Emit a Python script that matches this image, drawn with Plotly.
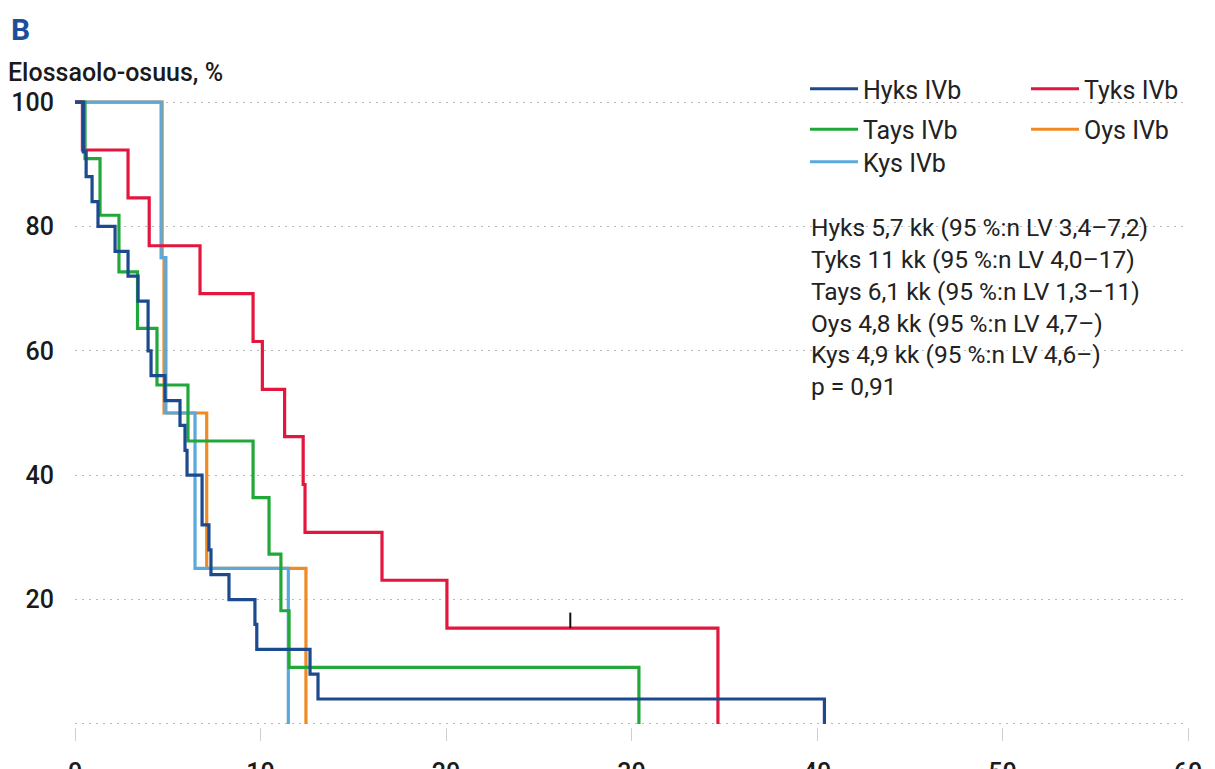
import plotly.graph_objects as go

# ---- data ----
hyks_t = [0, 0.45, 0.6, 0.92, 1.24, 2.16, 2.86, 3.4, 3.94, 4.1, 4.85, 5.66, 5.93, 6.04,
          6.85, 7.22, 7.33, 8.3, 9.7, 9.8, 12.67, 13.1, 40.4]
hyks_s = [100, 92, 88, 84, 80, 76, 72, 68, 60, 56, 52, 48, 44, 40,
          32, 28, 24, 20, 16, 12, 8, 4, 0]

tyks_t = [0, 0.4, 2.86, 4.0, 6.74, 9.6, 10.1, 11.3, 12.3, 12.4, 16.55, 20.05, 34.66]
tyks_s = [100, 92.3, 84.6, 76.9, 69.2, 61.5, 53.8, 46.2, 38.5, 30.8, 23.1, 15.4, 0]
tyks_cens_t = [26.7]
tyks_cens_s = [15.4]

tays_t = [0, 0.54, 1.35, 2.37, 3.37, 4.42, 6.09, 9.6, 10.46, 11.1, 11.54, 30.4]
tays_s = [100, 90.9, 81.8, 72.7, 63.6, 54.5, 45.5, 36.4, 27.3, 18.2, 9.1, 0]

oys_t = [0, 4.7, 4.8, 7.1, 12.45]
oys_s = [100, 75, 50, 25, 0]

kys_t = [0, 4.64, 4.9, 6.47, 11.5]
kys_s = [100, 75, 50, 25, 0]

x_ticks = [0, 10, 20, 30, 40, 50, 60]
y_ticks = [0, 20, 40, 60, 80, 100]
y_ticktext = ["", "20", "40", "60", "80", "100"]

stats_lines = [
    "Hyks 5,7 kk (95 %:n LV 3,4–7,2)",
    "Tyks 11 kk (95 %:n LV 4,0–17)",
    "Tays 6,1 kk (95 %:n LV 1,3–11)",
    "Oys 4,8 kk (95 %:n LV 4,7–)",
    "Kys 4,9 kk (95 %:n LV 4,6–)",
    "p = 0,91",
]

# ---- styling ----
W, H = 1215, 769
ML, MR, MT, MB = 75, 27, 99, 42
FONT = "Roboto, 'Open Sans', sans-serif"
C_HYKS = "#1c4a8e"
C_TYKS = "#e3173e"
C_TAYS = "#22a83a"
C_OYS = "#f08a24"
C_KYS = "#5aa9dc"


def px_x(px):
    return (px - ML) / (W - ML - MR)


def px_y(py):
    return (H - MB - py) / (H - MT - MB)


fig = go.Figure()


def add_curve(t, s, name, color, legend, group, rank):
    fig.add_trace(go.Scatter(
        x=t, y=s, mode="lines", name=name, line=dict(color=color, width=3.2, shape="hv"),
        legend=legend, legendgroup=group, legendrank=rank, hoverinfo="x+y+name"))


add_curve(oys_t, oys_s, "Oys IVb", C_OYS, "legend2", "oys", 2)
add_curve(kys_t, kys_s, "Kys IVb", C_KYS, "legend3", "kys", 1)
add_curve(tays_t, tays_s, "Tays IVb", C_TAYS, "legend", "tays", 2)
add_curve(tyks_t, tyks_s, "Tyks IVb", C_TYKS, "legend2", "tyks", 1)
add_curve(hyks_t, hyks_s, "Hyks IVb", C_HYKS, "legend", "hyks", 1)

fig.add_trace(go.Scatter(
    x=tyks_cens_t, y=tyks_cens_s, mode="markers", showlegend=False,
    marker=dict(size=1, color="rgba(0,0,0,0)"),
    error_y=dict(type="data", symmetric=False, array=[2.5], arrayminus=[0],
                 color="#111111", thickness=2, width=0),
    hoverinfo="skip"))

legend_common = dict(
    xref="container", yref="container", xanchor="left", yanchor="top",
    font=dict(family=FONT, size=25, color="#222222"), bgcolor="rgba(0,0,0,0)",
    traceorder="grouped", tracegroupgap=5, itemwidth=48, borderwidth=0,
)

fig.update_layout(
    width=W, height=H,
    margin=dict(l=ML, r=MR, t=MT, b=MB, autoexpand=False),
    paper_bgcolor="white", plot_bgcolor="white",
    font=dict(family=FONT, color="#1a1a1a"),
    legend=dict(x=805 / W, y=1 - 66 / H, **legend_common),
    legend2=dict(x=1026 / W, y=1 - 66 / H, **legend_common),
    legend3=dict(x=805 / W, y=1 - 139 / H, **legend_common),
    xaxis=dict(
        range=[0, 60], tickvals=x_ticks, showgrid=False, zeroline=False, showline=False,
        ticks="outside", ticklen=13, tickcolor="#cfcfcf", tickwidth=1,
        tickfont=dict(family=FONT, size=25, color="#1a1a1a", weight=500),
        ticklabelstandoff=10, automargin=False,
    ),
    yaxis=dict(
        range=[-0.5, 100.5], tickvals=y_ticks, ticktext=y_ticktext,
        showgrid=True, gridcolor="#b8b8b8", gridwidth=1, griddash="2px,5px",
        zeroline=False, showline=False, ticks="",
        tickfont=dict(family=FONT, size=25, color="#1a1a1a", weight=500),
        ticklabelstandoff=20, automargin=False,
    ),
    showlegend=True,
)

fig.add_annotation(
    text="B", xref="paper", yref="paper", x=px_x(9), y=px_y(30),
    xanchor="left", yanchor="middle", showarrow=False,
    font=dict(family=FONT, size=30, color="#1d4e9b", weight=700))

fig.add_annotation(
    text="Elossaolo-osuus, %", xref="paper", yref="paper", x=px_x(6), y=px_y(73),
    xanchor="left", yanchor="middle", showarrow=False,
    font=dict(family=FONT, size=25, color="#1a1a1a", weight=500))

fig.add_annotation(
    text="<br>".join(stats_lines), xref="paper", yref="paper", x=px_x(809), y=px_y(211),
    xanchor="left", yanchor="top", align="left", showarrow=False,
    font=dict(family=FONT, size=24.5, color="#222222"))

fig.write_html("out.html", config={"displayModeBar": False},
               post_script="document.body.style.margin='0';")
